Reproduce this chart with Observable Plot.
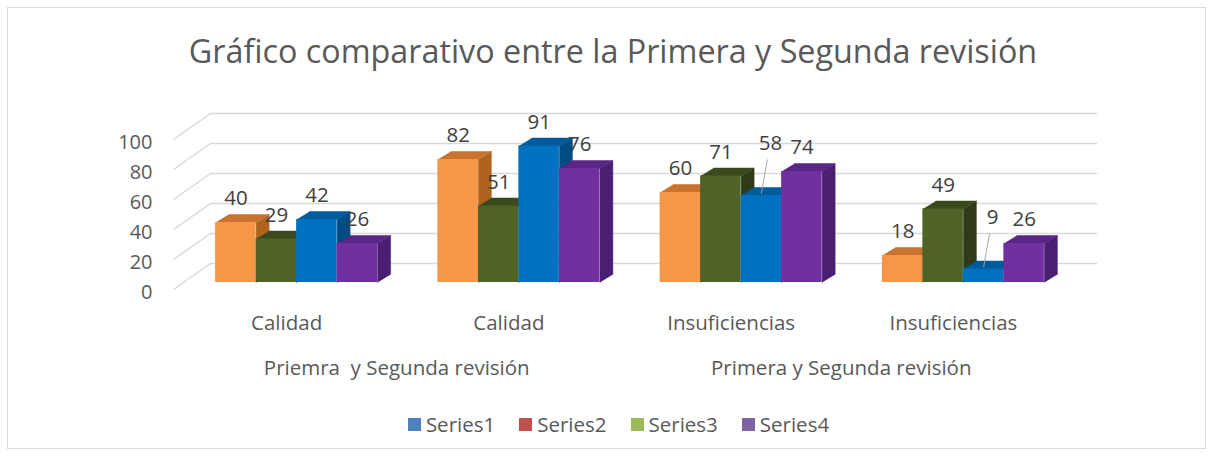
<!DOCTYPE html>
<html><head><meta charset="utf-8">
<script src="https://cdn.jsdelivr.net/npm/d3@7"></script>
<script src="https://cdn.jsdelivr.net/npm/@observablehq/plot@0.6"></script>
<style>
body{margin:0;background:#fff;font-family:"Open Sans",sans-serif;}
#frame{position:absolute;left:7px;top:7px;width:1199px;height:442px;border:1px solid #d9d9d9;box-sizing:border-box;}
#title{position:absolute;left:0;top:31px;width:1226px;text-align:center;font-size:32.3px;line-height:1.2;color:#595959;white-space:nowrap;}
#chart{position:absolute;left:0;top:95px;}
#chart svg text{white-space:pre;}
#legend{position:absolute;left:0;top:410px;width:1237px;height:28px;display:flex;justify-content:center;align-items:center;gap:24px;font-size:20.5px;color:#595959;}
#legend .item{display:flex;align-items:center;gap:5px;}
#legend .sw{width:13px;height:13px;display:inline-block;}
</style>
</head><body>
<div id="frame"></div>
<div id="title"></div>
<div id="chart"></div>
<div id="legend"></div>
<script>
// ---- data ----
const titleText = "Gráfico comparativo entre la Primera y Segunda revisión";
const categories = ["Calidad", "Calidad", "Insuficiencias", "Insuficiencias"];
const groupLabels = ["Priemra  y Segunda revisión", "Primera y Segunda revisión"];
const orangeValues = [40, 82, 60, 18];
const greenValues  = [29, 51, 71, 49];
const blueValues   = [42, 91, 58, 9];
const purpleValues = [26, 76, 74, 26];
const yTicks = [0, 20, 40, 60, 80, 100];
const legendNames = ["Series1", "Series2", "Series3", "Series4"];
const calloutBars = [[2, 2], [3, 2]]; // [group, series] labels drawn with a leader line

// ---- styles ----
const seriesStyles = [
  {front: "#F79646", top: "#C8732F", side: "#B0631F"},
  {front: "#4F6228", top: "#3B4A1D", side: "#2F3B16"},
  {front: "#0070C0", top: "#005A9C", side: "#004C85"},
  {front: "#7030A0", top: "#5A2686", side: "#4A1E70"}
];
const legendColors = ["#4F81BD", "#C0504D", "#9BBB59", "#8064A2"];

const width = 1215, height = 300;
const marginLeft = 185, marginRight = 141, marginTop = 37, marginBottom = 113;
const xDomain = [-0.5, 3.5], yDomain = [0, 100];
const pxX = (width - marginLeft - marginRight) / (xDomain[1] - xDomain[0]);
const pxY = (height - marginTop - marginBottom) / (yDomain[1] - yDomain[0]);
const ux = p => p / pxX, uy = p => p / pxY;
const barW = ux(40.5);
const depthX = ux(13), depthY = uy(8);
const wallX1 = xDomain[0] + ux(25), wallX2 = xDomain[1] + ux(23), diagX = xDomain[0] - ux(12);

const allValues = [orangeValues, greenValues, blueValues, purpleValues];
const bars = allValues.map((vals, j) => vals.map((v, g) => {
  const x1 = g + (j - 2) * barW;
  return {g, j, v, x1, x2: x1 + barW, cx: x1 + barW / 2,
    callout: calloutBars.some(([cg, cj]) => cg === g && cj === j)};
}));

const marks = [];
// back wall gridlines and left side wall
marks.push(Plot.ruleY(yTicks, {y: d => d + uy(19), x1: wallX1, x2: wallX2, stroke: "#d9d9d9", strokeWidth: 1.5}));
marks.push(Plot.link(yTicks, {x1: diagX, y1: d => d - uy(7), x2: wallX1, y2: d => d + uy(19), stroke: "#d9d9d9", strokeWidth: 1.5}));

bars.forEach((rows, j) => {
  const st = seriesStyles[j];
  const side = rows.flatMap(b => [
    {id: b.g, x: b.x2, y: 0}, {id: b.g, x: b.x2, y: b.v},
    {id: b.g, x: b.x2 + depthX, y: b.v + depthY}, {id: b.g, x: b.x2 + depthX, y: depthY}]);
  const top = rows.flatMap(b => [
    {id: b.g, x: b.x1, y: b.v}, {id: b.g, x: b.x2, y: b.v},
    {id: b.g, x: b.x2 + depthX, y: b.v + depthY}, {id: b.g, x: b.x1 + depthX, y: b.v + depthY}]);
  marks.push(Plot.line(side, {x: "x", y: "y", z: "id", fill: st.side, stroke: st.side, strokeWidth: 0.5}));
  marks.push(Plot.line(top, {x: "x", y: "y", z: "id", fill: st.top, stroke: st.top, strokeWidth: 0.5}));
  marks.push(Plot.rect(rows, {x1: "x1", x2: "x2", y1: 0, y2: "v", fill: st.front}));
});

const flat = bars.flat();
// data labels
marks.push(Plot.text(flat.filter(b => !b.callout), {x: "cx", y: "v", text: d => String(d.v), dy: -24, fontSize: 20.5, fill: "#404040"}));
marks.push(Plot.link(flat.filter(b => b.callout), {x1: d => d.cx + ux(6), y1: d => d.v + uy(36), x2: d => d.cx, y2: d => d.v + uy(2), stroke: "#a6a6a6", strokeWidth: 1}));
marks.push(Plot.text(flat.filter(b => b.callout), {x: d => d.cx + ux(9), y: "v", text: d => String(d.v), dy: -52, fontSize: 20.5, fill: "#404040"}));

// y tick labels
marks.push(Plot.text(yTicks, {y: d => d, frameAnchor: "left", textAnchor: "end", dx: -33, dy: 10, text: d => String(d), fontSize: 20, fill: "#595959"}));
// category labels
marks.push(Plot.text(categories, {x: (d, i) => i, y: 0, dx: -10, dy: 41, text: d => d, fontSize: 20.5, fill: "#595959"}));
marks.push(Plot.text(groupLabels, {x: (d, i) => 2 * i + 0.5, y: 0, dx: -11, dy: 86, text: d => d, fontSize: 20.5, fill: "#595959"}));

const chart = Plot.plot({
  width, height, marginLeft, marginRight, marginTop, marginBottom,
  style: {fontFamily: "'Open Sans', sans-serif", background: "transparent", overflow: "visible"},
  x: {type: "linear", domain: xDomain, axis: null},
  y: {type: "linear", domain: yDomain, axis: null},
  marks
});
document.getElementById("chart").appendChild(chart);
document.getElementById("title").textContent = titleText;

const legend = document.getElementById("legend");
legendNames.forEach((n, i) => {
  const it = document.createElement("div");
  it.className = "item";
  const sw = document.createElement("span");
  sw.className = "sw"; sw.style.background = legendColors[i];
  const t = document.createElement("span"); t.textContent = n;
  it.appendChild(sw); it.appendChild(t);
  legend.appendChild(it);
});
</script>
</body></html>
